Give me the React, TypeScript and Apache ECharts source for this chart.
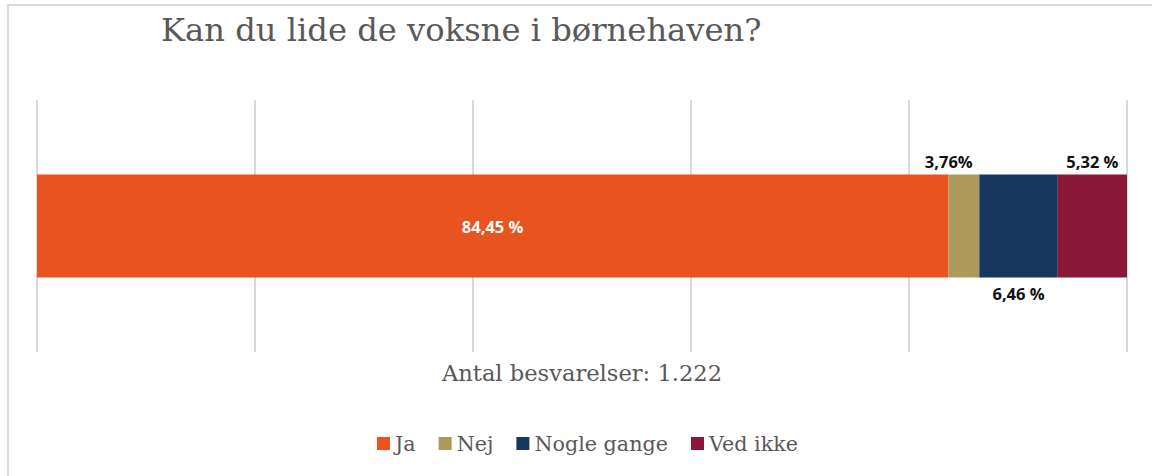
import React, { useEffect, useRef } from "react";
import * as echarts from "echarts";

const categories = ["Svar"];
const seriesNames = ["Ja", "Nej", "Nogle gange", "Ved ikke"];
// Bar lengths as drawn (share of 100)
const seriesValues = [83.6, 2.85, 7.2, 6.35];
// Printed data labels
const labelTexts = ["84,45 %", "3,76%", "6,46 %", "5,32 %"];
const colors = ["#E8531F", "#AD9A5A", "#16375E", "#8B1836"];
const axisName = "Antal besvarelser: 1.222";
const titleText = "Kan du lide de voksne i børnehaven?";

const serifFont = "DejaVu Serif";
const labelFont = "Open Sans";

export default function App() {
  const ref = useRef<HTMLDivElement>(null);
  useEffect(() => {
    if (!ref.current) return;
    const chart = echarts.init(ref.current, undefined, { renderer: "svg" });
    const labelCfg = [
      { show: true, position: "inside", color: "#ffffff" },
      { show: true, position: "top", offset: [-15, 0], color: "#111111", distance: 5 },
      { show: true, position: "bottom", color: "#111111", distance: 7 },
      { show: true, position: "top", color: "#111111", distance: 5 },
    ];
    chart.setOption({
      animation: false,
      backgroundColor: "#ffffff",
      title: {
        text: titleText,
        left: 156,
        top: 9,
        textStyle: {
          fontFamily: serifFont,
          fontWeight: "normal",
          fontSize: 32.2,
          color: "#595959",
        },
      },
      graphic: [
        {
          type: "rect",
          shape: { x: 8, y: 5, width: 1300, height: 600 },
          style: { fill: "none", stroke: "#d9d9d9", lineWidth: 2 },
          silent: true,
        },
      ],
      legend: {
        data: seriesNames,
        top: 428,
        left: 372,
        icon: "rect",
        itemWidth: 13,
        itemHeight: 13,
        itemGap: 23,
        textStyle: { fontFamily: serifFont, fontSize: 20.7, color: "#595959" },
      },
      grid: { left: 37, right: 25, top: 100, height: 252, containLabel: false },
      xAxis: {
        type: "value",
        min: 0,
        max: 100,
        interval: 20,
        name: axisName,
        nameLocation: "middle",
        nameGap: 9,
        nameTextStyle: {
          fontFamily: serifFont,
          fontSize: 22.6,
          color: "#595959",
          verticalAlign: "top",
        },
        axisLine: { show: false },
        axisTick: { show: false },
        axisLabel: { show: false },
        splitLine: { show: true, lineStyle: { color: "#d9d9d9", width: 2 } },
      },
      yAxis: {
        type: "category",
        data: categories,
        axisLine: { show: false },
        axisTick: { show: false },
        axisLabel: { show: false },
        splitLine: { show: false },
      },
      series: seriesNames.map((name, i) => ({
        name,
        type: "bar",
        stack: "total",
        barWidth: 103,
        data: [seriesValues[i]],
        itemStyle: { color: colors[i] },
        label: {
          ...labelCfg[i],
          fontFamily: labelFont,
          fontWeight: "bold",
          fontSize: 16.5,
          formatter: () => labelTexts[i],
        },
      })),
    });
    return () => chart.dispose();
  }, []);
  return (
    <div
      ref={ref}
      style={{ position: "fixed", left: 0, top: 0, width: 1152, height: 476 }}
    />
  );
}
